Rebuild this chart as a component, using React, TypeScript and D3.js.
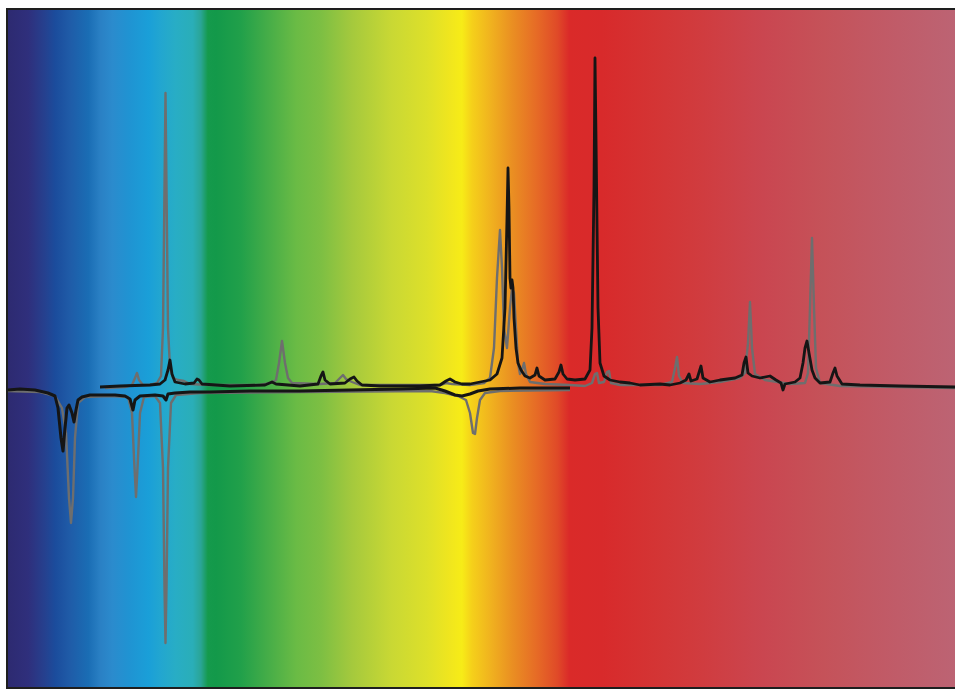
import React from "react";
import * as d3 from "d3";

// channel positions (arbitrary units) and intensities (baseline = 0)
const lowerBlack: [number, number][] = [
  [8, -2], [20, -1], [35, -2], [48, -5], [55, -8], [58, -20], [61, -50], [63, -63], [65, -40], [67, -20],
  [69, -17], [72, -25], [74, -34], [76, -22], [78, -12], [82, -9], [90, -7], [100, -7], [115, -7], [125, -8],
  [130, -11], [133, -22], [135, -12], [140, -8], [155, -7], [163, -8], [166, -12], [168, -6], [175, -5],
  [190, -4], [210, -4], [250, -3], [300, -3], [350, -2], [400, -1], [435, 0], [445, -3], [455, -7],
  [462, -8], [470, -6], [478, -3], [490, -1], [520, 0], [545, 0], [570, 0],
];

const lowerGray: [number, number][] = [
  [8, -3], [40, -4], [55, -8], [62, -20], [66, -45], [69, -110], [71, -135], [73, -110], [75, -50],
  [78, -15], [85, -9], [110, -8], [128, -9], [132, -25], [134, -70], [136, -109], [138, -70], [140, -25],
  [144, -9], [155, -8], [160, -15], [163, -80], [164.5, -200], [165.5, -255], [166.5, -200], [168, -80],
  [171, -15], [176, -7], [200, -5], [300, -4], [430, -3], [445, -5], [458, -8], [466, -12], [470, -25],
  [473, -45], [475, -46], [477, -30], [480, -12], [485, -5], [500, -3], [570, -2],
];

const upperGray: [number, number][] = [
  [105, 0], [125, 1], [132, 3], [135, 10], [137, 15], [139, 8], [143, 3], [150, 3], [157, 5], [161, 12],
  [163, 60], [164.5, 200], [165.5, 295], [166.5, 200], [168, 60], [170, 20], [173, 10], [178, 8],
  [184, 7], [190, 4], [210, 3], [260, 3], [270, 5], [276, 8], [279, 25], [282, 47], [285, 25], [288, 10],
  [292, 5], [320, 4], [335, 5], [340, 10], [343, 13], [346, 9], [352, 6], [360, 3], [440, 3], [446, 5],
  [452, 4], [470, 3], [484, 5], [490, 10], [494, 40], [497, 110], [500, 158], [502, 120], [504, 60],
  [507, 40], [510, 80], [512, 100], [514, 95], [516, 60], [518, 25], [520, 14], [522, 18], [524, 25],
  [526, 14], [530, 6], [545, 4], [570, 3], [585, 2], [592, 5], [595, 14], [597, 15], [599, 5], [604, 6],
  [607, 16], [609, 17], [611, 5], [620, 3], [660, 3], [672, 6], [675, 20], [677, 31], [679, 12], [683, 5],
  [700, 4], [720, 6], [740, 10], [745, 15], [748, 45], [750, 86], [752, 40], [755, 14], [765, 8],
  [790, 4], [805, 5], [808, 15], [810, 80], [812, 150], [814, 80], [816, 20], [820, 5], [840, 2],
  [900, 1], [955, 0],
];

const upperBlack: [number, number][] = [
  [100, 1], [120, 2], [150, 3], [160, 4], [165, 8], [168, 18], [170, 28], [172, 14], [175, 6], [185, 4],
  [194, 5], [197, 9], [199, 8], [202, 4], [230, 2], [265, 3], [272, 6], [276, 4], [300, 2], [318, 4],
  [321, 12], [323, 16], [325, 8], [330, 4], [345, 5], [350, 9], [354, 11], [357, 7], [362, 3], [380, 2],
  [420, 2], [440, 3], [446, 7], [450, 9], [455, 6], [462, 4], [470, 4], [480, 6], [490, 8], [497, 14],
  [502, 30], [505, 80], [507, 170], [508, 220], [509, 180], [510, 110], [511, 100], [512, 108],
  [513, 100], [514, 70], [516, 40], [518, 25], [521, 18], [525, 12], [530, 10], [535, 13], [537, 20],
  [539, 12], [545, 8], [555, 9], [559, 16], [561, 23], [563, 14], [567, 9], [575, 8], [585, 9], [590, 18],
  [592, 60], [594, 200], [595, 330], [596, 250], [598, 80], [600, 25], [604, 12], [610, 8], [620, 6],
  [630, 5], [640, 3], [660, 4], [670, 3], [680, 5], [686, 8], [689, 14], [691, 7], [697, 9], [701, 22],
  [703, 10], [710, 6], [720, 8], [735, 10], [742, 13], [744, 25], [746, 31], [748, 15], [752, 12],
  [760, 10], [770, 12], [776, 8], [781, 5], [783, -2], [785, 4], [795, 6], [800, 10], [803, 25],
  [805, 40], [807, 47], [809, 35], [812, 18], [815, 10], [820, 5], [830, 6], [833, 15], [835, 20],
  [837, 12], [842, 4], [860, 3], [900, 2], [955, 1],
];

// background spectrum colour stops: [channel, colour]
const spectrumStops: [number, string][] = [
  [7, "#2d2a70"], [28, "#2f2f7c"], [45, "#25418f"], [55, "#1b4c9c"], [70, "#1f5ca8"], [88, "#1a6db4"],
  [100, "#2a80c4"], [112, "#2b8bcd"], [128, "#2093d2"], [148, "#1a9fd8"], [160, "#22a6d0"],
  [175, "#28adc5"], [192, "#2aaeb8"], [200, "#2aa596"], [207, "#159a4c"], [215, "#13994a"],
  [240, "#21a04a"], [265, "#43ac48"], [295, "#6abb45"], [320, "#7dbf43"], [350, "#a4c93d"],
  [390, "#c9d834"], [425, "#dde02a"], [448, "#f0e61e"], [460, "#f7ec17"], [470, "#f5d01a"],
  [490, "#f0b01f"], [510, "#ea8f22"], [535, "#e66a26"], [555, "#e04a28"], [567, "#da2a29"],
  [600, "#d82a2b"], [650, "#d43434"], [700, "#d03c3f"], [760, "#ca4650"], [820, "#c55259"],
  [880, "#c15a66"], [955, "#bc6474"],
];

export default function App() {
  const W = 955;
  const H = 689;
  const x = d3.scaleLinear().domain([7, 955]).range([7, 955]);
  const y = d3.scaleLinear().domain([-300, 380]).range([688, 8]);
  const line = d3
    .line<[number, number]>()
    .x((d) => x(d[0]))
    .y((d) => y(d[1]))
    .curve(d3.curveLinear);
  const x0 = x(7);
  const x1 = x(955);
  return (
    <svg
      width={W}
      height={H}
      style={{ position: "absolute", left: 0, top: 0, background: "#fff" }}
    >
      <defs>
        <linearGradient id="spec" x1="0" x2="1" y1="0" y2="0">
          {spectrumStops.map(([p, c], i) => (
            <stop key={i} offset={(x(p) - x0) / (x1 - x0)} stopColor={c} />
          ))}
        </linearGradient>
      </defs>
      <rect x={x0} y={9} width={x1 - x0 + 4} height={679} fill="url(#spec)" stroke="#1e1e1e" strokeWidth={2} />
      <path d={line(lowerGray) || ""} fill="none" stroke="#6e6e6e" strokeWidth={2.4} strokeLinejoin="round" />
      <path d={line(upperGray) || ""} fill="none" stroke="#6e6e6e" strokeWidth={2.4} strokeLinejoin="round" />
      <path d={line(lowerBlack) || ""} fill="none" stroke="#151515" strokeWidth={3} strokeLinejoin="round" />
      <path d={line(upperBlack) || ""} fill="none" stroke="#151515" strokeWidth={2.8} strokeLinejoin="round" />
    </svg>
  );
}
